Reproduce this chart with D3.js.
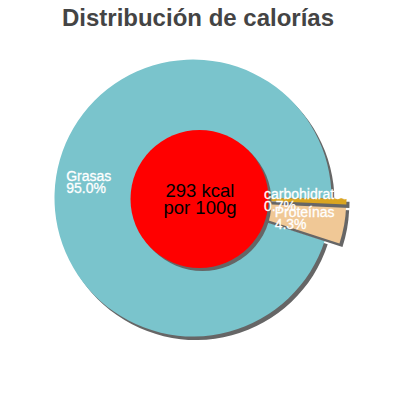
<!DOCTYPE html>
<html lang="es">
<head>
    <meta charset="UTF-8">
    <script src="https://cdn.jsdelivr.net/npm/d3@7"></script>
    <title>Distribución de calorías</title>
    <style>
        body { margin: 0; background: #fff; }
        svg { display: block; font-family: "Liberation Sans", Arial, sans-serif; }
    </style>
</head>
<body>
<svg width="400" height="400"></svg>
<script>
    // data, in drawing order
    var names = ["carbohidratos", "Proteínas", "Grasas"];
    var values = [0.7, 4.3, 95.0];
    var labels = ["0.7%", "4.3%", "95.0%"];
    var colors = ["#daa520", "#f0c896", "#7ac4cc"];
    var exploded = [true, true, false];
    var title = "Distribución de calorías";
    var centerLines = ["293 kcal", "por 100g"];

    var svg = d3.select("svg");
    var cx = 193, cy = 198, radius = 138.5;
    var explode = 15;
    var labelR = 102;

    svg.append("text")
        .attr("x", 198).attr("y", 26)
        .attr("text-anchor", "middle")
        .style("font-size", "24px").style("font-weight", "bold")
        .style("fill", "#444")
        .text(title);

    var pie = d3.pie().sort(null).startAngle(Math.PI / 2).endAngle(Math.PI / 2 + 2 * Math.PI);
    var arcs = pie(values);
    var arc = d3.arc().innerRadius(0).outerRadius(radius);

    function offset(d, i) {
        var mid = (d.startAngle + d.endAngle) / 2;
        var e = exploded[i] ? explode : 0;
        return [Math.sin(mid) * e, -Math.cos(mid) * e];
    }

    var g = svg.append("g").attr("transform", "translate(" + cx + "," + cy + ")");

    // grasas first, then the small slices on top
    var order = [2, 1, 0];
    order.forEach(function (i) {
        var d = arcs[i];
        var o = offset(d, i);
        g.append("path")
            .attr("d", arc(d))
            .attr("transform", "translate(" + (o[0] + 3) + "," + (o[1] + 3.5) + ")")
            .attr("fill", "#666");
        g.append("path")
            .attr("d", arc(d))
            .attr("transform", "translate(" + o[0] + "," + o[1] + ")")
            .attr("fill", colors[i]);
    });

    // inner circle
    var rx = 199.5, ry = 199, rr = 69;
    svg.append("circle").attr("cx", rx + 3).attr("cy", ry + 3).attr("r", rr).attr("fill", "#666");
    svg.append("circle").attr("cx", rx).attr("cy", ry).attr("r", rr).attr("fill", "#ff0000");
    svg.selectAll(".center").data(centerLines).enter().append("text")
        .attr("x", 200).attr("y", function (d, i) { return 197 + i * 17; })
        .attr("text-anchor", "middle")
        .style("font-size", "18.5px").style("fill", "#000")
        .text(function (d) { return d; });

    // labels
    arcs.forEach(function (d, i) {
        var mid = (d.startAngle + d.endAngle) / 2;
        var e = exploded[i] ? explode : 0;
        var px = cx + Math.sin(mid) * (labelR + e) - 3.5;
        var py = cy - Math.cos(mid) * (labelR + e);
        var t = svg.append("text")
            .style("font-size", "14px")
            .style("fill", "#fff")
            .style("stroke", "#fff").style("stroke-width", "0.3px");
        var l1 = t.append("tspan").text(names[i]);
        var l2 = t.append("tspan").text(labels[i]);
        var w = Math.max(l1.node().getComputedTextLength(), l2.node().getComputedTextLength());
        var x0 = px - w / 2;
        l1.attr("x", x0).attr("y", py - 1.5);
        l2.attr("x", x0).attr("y", py + 10.5);
    });
</script>
</body>
</html>
